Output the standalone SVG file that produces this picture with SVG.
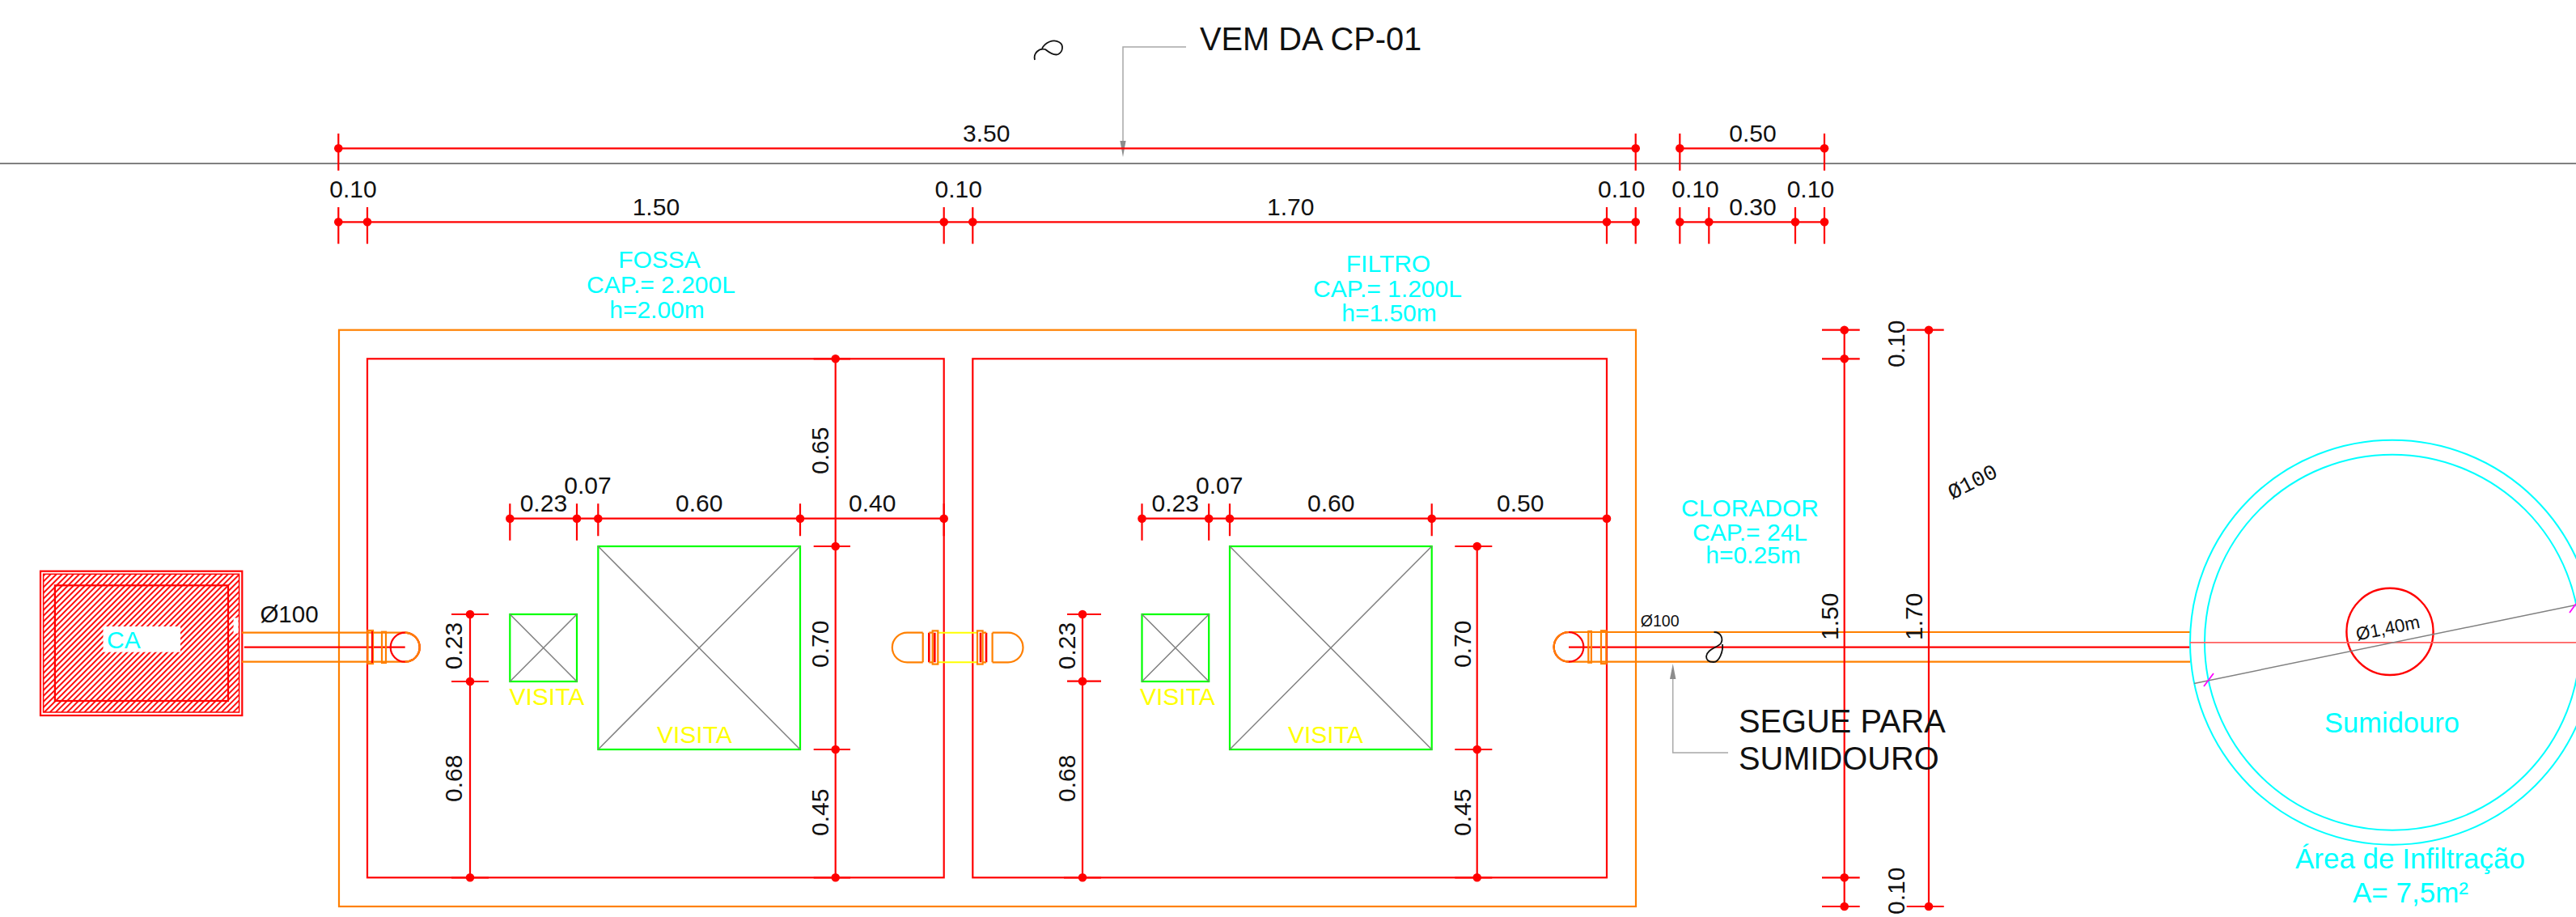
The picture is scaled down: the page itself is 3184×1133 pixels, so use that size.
<svg xmlns="http://www.w3.org/2000/svg" width="3184" height="1133" viewBox="0 0 3184 1133">
<style>
text{font-family:"Liberation Sans",Arial,sans-serif;font-size:30px;fill:#111}
.c{fill:#00ffff;text-anchor:middle}
.y{fill:#ffff00}
.m{text-anchor:middle}
.r{fill:none;stroke:#ff0000;stroke-width:2.2}
.o{fill:none;stroke:#ff8000;stroke-width:2.2}
.g{fill:none;stroke:#00ff00;stroke-width:2.2}
.d{fill:none;stroke:#808080;stroke-width:1.5}
.l{fill:none;stroke:#a8a8a8;stroke-width:1.5}
.cy{fill:none;stroke:#00ffff;stroke-width:2}
.k{fill:none;stroke:#111;stroke-width:1.8}
.dot{fill:#ff0000}
.ah{fill:#8c8c8c}
</style>
<defs>
<pattern id="hatch" width="5" height="5" patternUnits="userSpaceOnUse" patternTransform="rotate(45)"><rect width="5" height="5" fill="#fff"/><rect width="1.9" height="5" fill="#ff0000"/></pattern>
<g id="capL"><path class="o" d="M0 -18.3A18.5 18.3 0 0 0 0 18.3M0 -18.3H19.4M0 18.3H19.4"/><path class="r" d="M27 -18.3V18.3M34 -18.3V18.3" style="stroke-width:2.6"/><path class="o" d="M19.4 -18.3V18.3M27 -18.3H31.4M27 18.3H31.4"/><rect class="o" x="31.4" y="-20.6" width="6.6" height="41.2"/></g>
</defs>

<g id="reference-lines">
<path class="d" d="M0 202H3184" style="stroke-width:2"/>
</g>

<g id="outer-tank"><rect class="o" x="419" y="407.7" width="1603" height="712.3"/></g>
<g id="fossa"><rect class="r" x="454" y="443.3" width="712.7" height="641"/>
<text class="c" x="815" y="331">FOSSA</text><text class="c" x="817" y="362">CAP.= 2.200L</text><text class="c" x="812" y="393">h=2.00m</text></g>
<g id="filtro"><rect class="r" x="1202.3" y="443.3" width="783.7" height="641"/>
<text class="c" x="1716" y="336">FILTRO</text><text class="c" x="1715" y="367">CAP.= 1.200L</text><text class="c" x="1717" y="397">h=1.50m</text></g>

<g id="visita-1"><rect class="g" x="630.3" y="759" width="82.7" height="83"/><path class="d" d="M630.3 759L713 842M713 759L630.3 842"/><text class="y" x="629.5" y="871">VISITA</text></g>
<g id="visita-2"><rect class="g" x="739.3" y="675" width="249.7" height="251"/><path class="d" d="M739.3 675L989 926M989 675L739.3 926"/><text class="y" x="812" y="918">VISITA</text></g>
<g id="visita-3"><rect class="g" x="1411.5" y="759" width="82.7" height="83"/><path class="d" d="M1411.5 759L1494.2 842M1494.2 759L1411.5 842"/><text class="y" x="1409" y="871">VISITA</text></g>
<g id="visita-4"><rect class="g" x="1520" y="675" width="249.7" height="251"/><path class="d" d="M1520 675L1769.7 926M1769.7 675L1520 926"/><text class="y" x="1592" y="918">VISITA</text></g>

<g id="ca">
<rect x="50" y="705.7" width="249.3" height="178.3" fill="#fff" stroke="#ff0000" stroke-width="2.2"/>
<rect x="53.6" y="709.3" width="242" height="170.7" fill="url(#hatch)" stroke="#ff0000" stroke-width="1.5"/>
<rect x="67.9" y="723.3" width="214.1" height="142.7" fill="none" stroke="#ff0000" stroke-width="2.2"/>
<rect x="288.6" y="763.5" width="6" height="19" fill="#fff"/>
<rect x="127.5" y="774" width="95.5" height="31.7" fill="#fff"/>
<text x="132" y="800.7" style="fill:#00ffff">CA</text>
</g>

<g id="connectors">
<path class="o" d="M299 781.7H454M299 817.7H454M1986 781H2707M1986 817.7H2707"/>
<path class="r" d="M301.8 799.7H500.7M1939 799.7H2707"/>
<path d="M1159.5 781.7H1207M1159.5 818.3H1207" fill="none" stroke="#ffff00" stroke-width="2"/>
<path class="l" d="M1466 58H1388V176"/>
<path class="ah" d="M1384.4 174H1391.6L1388 194Z"/>
<path class="l" d="M2136 930H2067.7V838"/>
<path class="ah" d="M2064 839H2071.4L2067.7 820Z"/>
</g>

<g id="cap-inlet">
<path class="o" d="M454 781.7H500.7A18 18 0 0 1 500.7 817.7H454"/>
<circle class="r" cx="500.7" cy="799.7" r="18"/>
<path class="o" d="M500.7 781.7A18 18 0 0 1 500.7 817.7"/>
<rect class="o" x="454.5" y="779" width="6.5" height="41"/><rect class="o" x="472" y="780.7" width="5" height="38.3"/>
<path class="r" d="M460 780V819"/>
</g>
<g id="cap-fossa-outlet"><use href="#capL" x="1121.3" y="800"/></g>
<g id="cap-filtro-inlet"><use href="#capL" transform="translate(1246 800) scale(-1 1)"/></g>
<g id="cap-outlet">
<path class="o" d="M1985 781H1939A18.3 18.3 0 0 0 1939 817.7H1985"/>
<circle class="r" cx="1939" cy="799.4" r="18.3"/>
<path class="o" d="M1939 781A18.3 18.3 0 0 0 1939 817.7"/>
<rect class="o" x="1963.3" y="780" width="3.6" height="38.7"/><rect class="o" x="1979" y="779.3" width="6.3" height="40.7"/>
</g>

<g id="sumidouro">
<circle class="cy" cx="2957" cy="793.7" r="250"/>
<circle class="cy" cx="2957" cy="793.7" r="232"/>
<circle class="r" cx="2954" cy="780.4" r="53.6" style="stroke-width:2.4"/>
<path d="M2707 793.9H3184" fill="none" stroke="#ff6060" stroke-width="1.8"/>
<path class="d" d="M2712 844.4L3184 747.5"/>
<path d="M2724 848L2736 832M3176 757L3184 746" fill="none" stroke="#ff00ff" stroke-width="1.8"/>
<text class="m" transform="translate(2953 783.5) rotate(-11.6)" style="font-size:22.5px">Ø1,40m</text>
<text class="c" x="2956.5" y="904.5" style="font-size:34.5px">Sumidouro</text>
<text class="c" x="2979" y="1073" style="font-size:35px">Área de Infiltração</text>
<text class="c" x="2979.5" y="1115" style="font-size:35px">A= 7,5m²</text>
</g>

<g id="clorador"><text class="c" x="2163" y="638">CLORADOR</text><text class="c" x="2163" y="668">CAP.= 24L</text><text class="c" x="2167" y="696">h=0.25m</text></g>

<g id="dim-top">
<path class="r" d="M418.3 183.3H2021.7M2076.3 183.3H2255M418.3 165V210.7M2021.7 165V210.7M2076.3 165V210.7M2255 165V210.7"/>
<circle class="dot" cx="418.3" cy="183.3" r="5.3"/><circle class="dot" cx="2021.7" cy="183.3" r="5.3"/><circle class="dot" cx="2076.3" cy="183.3" r="5.3"/><circle class="dot" cx="2255" cy="183.3" r="5.3"/>
<text x="1190" y="175">3.50</text><text x="2137.3" y="175">0.50</text>
</g>
<g id="dim-second">
<path class="r" d="M418.3 274.3H1166.7M1166.7 274.3H1202.3M1202.3 274.3H2021.7M2076.3 274.3H2255M418.3 256V301.3M454 256V301.3M1166.7 256V301.3M1202.3 256V301.3M1986 256V301.3M2021.7 256V301.3M2076.3 256V301.3M2112.3 256V301.3M2219 256V301.3M2255 256V301.3"/>
<circle class="dot" cx="418.3" cy="274.3" r="5.3"/><circle class="dot" cx="454" cy="274.3" r="5.3"/><circle class="dot" cx="1166.7" cy="274.3" r="5.3"/><circle class="dot" cx="1202.3" cy="274.3" r="5.3"/><circle class="dot" cx="1986" cy="274.3" r="5.3"/><circle class="dot" cx="2021.7" cy="274.3" r="5.3"/><circle class="dot" cx="2076.3" cy="274.3" r="5.3"/><circle class="dot" cx="2112.3" cy="274.3" r="5.3"/><circle class="dot" cx="2219" cy="274.3" r="5.3"/><circle class="dot" cx="2255" cy="274.3" r="5.3"/>
<text x="407.3" y="244">0.10</text><text x="781.7" y="266">1.50</text><text x="1155.5" y="244">0.10</text><text x="1566" y="266">1.70</text><text x="1975" y="244">0.10</text><text x="2066.3" y="244">0.10</text><text x="2137.3" y="266">0.30</text><text x="2208.7" y="244">0.10</text>
</g>

<g id="dim-fossa-h">
<path class="r" d="M630.3 640.7H1166.7M630.3 622.3V667.7M713 622.3V667.7M739.3 622.3V662.3M989 622.3V662.3M1166.7 622.3V662.3"/>
<circle class="dot" cx="630.3" cy="640.7" r="5.3"/><circle class="dot" cx="713" cy="640.7" r="5.3"/><circle class="dot" cx="739.3" cy="640.7" r="5.3"/><circle class="dot" cx="989" cy="640.7" r="5.3"/><circle class="dot" cx="1166.7" cy="640.7" r="5.3"/>
<text x="642.7" y="632.3">0.23</text><text x="697.3" y="609.5">0.07</text><text x="835" y="632.3">0.60</text><text x="1049" y="632.3">0.40</text>
</g>
<g id="dim-filtro-h">
<path class="r" d="M1411.5 640.7H1986M1411.5 622.3V667.7M1494.2 622.3V667.7M1520 622.3V662.3M1769.7 622.3V662.3"/>
<circle class="dot" cx="1411.5" cy="640.7" r="5.3"/><circle class="dot" cx="1494.2" cy="640.7" r="5.3"/><circle class="dot" cx="1520" cy="640.7" r="5.3"/><circle class="dot" cx="1769.7" cy="640.7" r="5.3"/><circle class="dot" cx="1986" cy="640.7" r="5.3"/>
<text x="1423.5" y="632.3">0.23</text><text x="1478" y="609.5">0.07</text><text x="1616" y="632.3">0.60</text><text x="1850" y="632.3">0.50</text>
</g>

<g id="dim-fossa-v1">
<path class="r" d="M581 759V1084.3M558 759H604M558 842H604M558 1084.3H604"/>
<circle class="dot" cx="581" cy="759" r="5.3"/><circle class="dot" cx="581" cy="842" r="5.3"/><circle class="dot" cx="581" cy="1084.3" r="5.3"/>
<text transform="translate(571 827.3) rotate(-90)">0.23</text><text transform="translate(571 991) rotate(-90)">0.68</text>
</g>
<g id="dim-fossa-v2">
<path class="r" d="M1032.7 443.3V1084.3M1005.7 443.3H1051M1005.7 675H1051M1005.7 926H1051M1005.7 1084.3H1051"/>
<circle class="dot" cx="1032.7" cy="443.3" r="5.3"/><circle class="dot" cx="1032.7" cy="675" r="5.3"/><circle class="dot" cx="1032.7" cy="926" r="5.3"/><circle class="dot" cx="1032.7" cy="1084.3" r="5.3"/>
<text transform="translate(1024 586) rotate(-90)">0.65</text><text transform="translate(1024 825) rotate(-90)">0.70</text><text transform="translate(1024 1033) rotate(-90)">0.45</text>
</g>
<g id="dim-filtro-v1">
<path class="r" d="M1338 759V1084.3M1319 759H1361M1319 841.7H1361M1315 1084.3H1361"/>
<circle class="dot" cx="1338" cy="759" r="5.3"/><circle class="dot" cx="1338" cy="841.7" r="5.3"/><circle class="dot" cx="1338" cy="1084.3" r="5.3"/>
<text transform="translate(1329 827.3) rotate(-90)">0.23</text><text transform="translate(1329 991) rotate(-90)">0.68</text>
</g>
<g id="dim-filtro-v2">
<path class="r" d="M1825.7 675V1084.3M1798.3 675H1844.3M1798.3 926H1844.3M1798.3 1084.3H1844.3"/>
<circle class="dot" cx="1825.7" cy="675" r="5.3"/><circle class="dot" cx="1825.7" cy="926" r="5.3"/><circle class="dot" cx="1825.7" cy="1084.3" r="5.3"/>
<text transform="translate(1818 825) rotate(-90)">0.70</text><text transform="translate(1818 1033) rotate(-90)">0.45</text>
</g>
<g id="dim-right-1">
<path class="r" d="M2279.7 407.7V1120M2252 407.7H2298.7M2252 443.3H2298.7M2252 1084.3H2298.7M2252 1120H2298.7"/>
<circle class="dot" cx="2279.7" cy="407.7" r="5.3"/><circle class="dot" cx="2279.7" cy="443.3" r="5.3"/><circle class="dot" cx="2279.7" cy="1084.3" r="5.3"/><circle class="dot" cx="2279.7" cy="1120" r="5.3"/>
<text transform="translate(2272 791) rotate(-90)">1.50</text>
</g>
<g id="dim-right-2">
<path class="r" d="M2384 407.7V1120M2356.7 407.7H2402.7M2356.7 1120H2402.7"/>
<circle class="dot" cx="2384" cy="407.7" r="5.3"/><circle class="dot" cx="2384" cy="1120" r="5.3"/>
<text transform="translate(2354 454) rotate(-90)">0.10</text><text transform="translate(2354 1130) rotate(-90)">0.10</text><text transform="translate(2376 791) rotate(-90)">1.70</text>
</g>

<g id="annotations">
<text x="1483" y="62" style="font-size:39.8px">VEM DA CP-01</text>
<text x="2149" y="905" style="font-size:39.8px">SEGUE PARA</text>
<text x="2149" y="951" style="font-size:39.8px">SUMIDOURO</text>
<text x="321.4" y="769.3" style="font-size:29.5px">Ø100</text>
<text x="2027.7" y="774" style="font-size:19.6px">Ø100</text>
<text transform="translate(2442 603) rotate(-27)" class="m" style="font-family:'Liberation Mono',monospace;font-size:27px">Ø100</text>
<path class="k" d="M1279 74C1277 66 1284 59 1292 61C1297 65 1303 69 1308 67C1314 64 1315 55 1309 52C1302 48 1292 52 1288 60"/>
<path class="k" d="M2118.5 781C2128 781 2130 790 2127 795C2123 800 2110 802 2109 811C2109 816 2113 818 2118 818C2125 818 2130 805 2129 796"/>
</g>
</svg>
